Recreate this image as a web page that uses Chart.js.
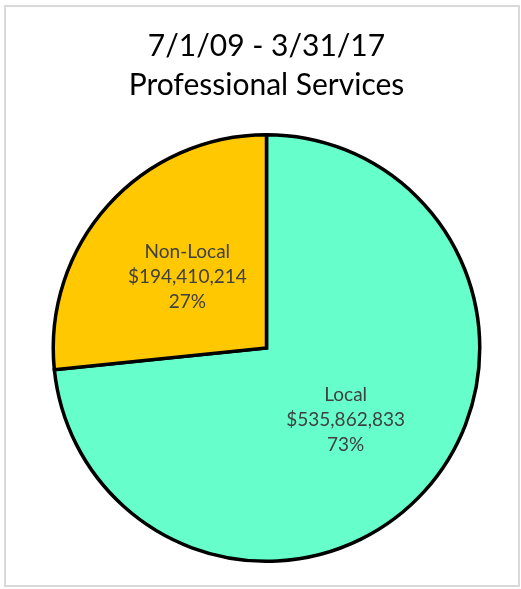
<!DOCTYPE html>
<html>
<head>
<meta charset="utf-8">
<script src="https://cdn.jsdelivr.net/npm/chart.js@4/dist/chart.umd.min.js"></script>
<style>
  html, body { margin: 0; padding: 0; background: #ffffff; }
  #wrap { width: 521px; height: 589px; position: relative; }
</style>
</head>
<body>
<div id="wrap"><canvas id="chart" width="521" height="589"></canvas></div>
<script>
// Contract spending by vendor location
const categories = ['Local', 'Non-Local'];
const amounts = [535862833, 194410214];
const percentLabels = ['73%', '27%'];
const titleLines = ['7/1/09 - 3/31/17', 'Professional Services'];
const sliceColors = ['#66FFCC', '#FFC800'];

const fmtMoney = v => '$' + v.toLocaleString('en-US');

// Light grey frame around the whole chart
const framePlugin = {
  id: 'frame',
  beforeDraw(chart) {
    const ctx = chart.ctx;
    ctx.save();
    ctx.strokeStyle = '#d9d9d9';
    ctx.lineWidth = 2;
    ctx.strokeRect(5, 6, 514, 580);
    ctx.restore();
  }
};

// Category / amount / percent text at each slice centre
const sliceLabels = {
  id: 'sliceLabels',
  afterDatasetsDraw(chart) {
    const ctx = chart.ctx;
    const meta = chart.getDatasetMeta(0);
    ctx.save();
    ctx.fillStyle = '#404040';
    ctx.font = '19px Lato';
    ctx.textAlign = 'center';
    ctx.textBaseline = 'middle';
    meta.data.forEach((arc, i) => {
      const p = arc.tooltipPosition();
      const lines = [categories[i], fmtMoney(amounts[i]), percentLabels[i]];
      const lh = 25;
      lines.forEach((t, k) => {
        ctx.fillText(t, p.x, p.y + (k - 1) * lh);
      });
    });
    ctx.restore();
  }
};

new Chart(document.getElementById('chart'), {
  type: 'pie',
  data: {
    labels: categories,
    datasets: [{
      data: amounts,
      backgroundColor: sliceColors,
      borderColor: '#000000',
      borderWidth: 3.5,
      borderJoinStyle: 'miter'
    }]
  },
  options: {
    responsive: false,
    animation: false,
    layout: { padding: { left: 51.5, right: 39.5, top: 0, bottom: 26 } },
    plugins: {
      legend: { display: false },
      tooltip: { enabled: false },
      title: {
        display: true,
        text: titleLines,
        color: '#000000',
        font: { family: 'Lato', size: 30, weight: 'normal', lineHeight: '39px' },
        padding: { top: 26.5, bottom: 28.5 }
      }
    }
  },
  plugins: [framePlugin, sliceLabels]
});
</script>
</body>
</html>
